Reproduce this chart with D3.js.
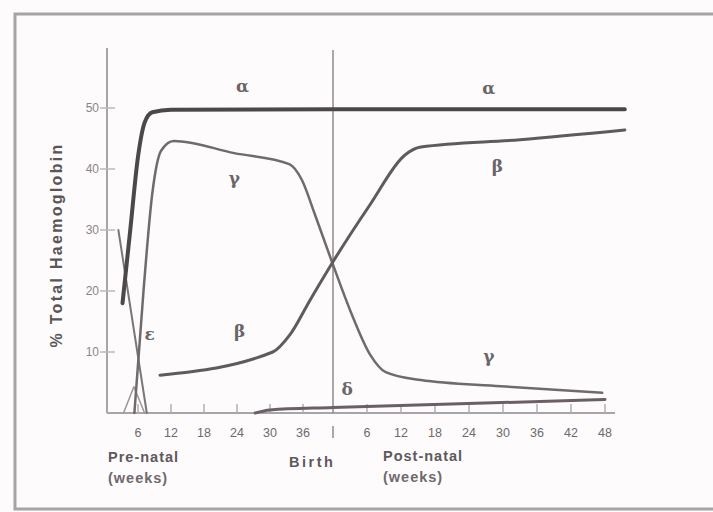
<!DOCTYPE html>
<html>
<head>
<meta charset="utf-8">
<script src="https://cdn.jsdelivr.net/npm/d3@7"></script>
<style>
  html, body { margin: 0; padding: 0; background: #fdfbfc; }
  svg { display: block; }
  text { font-family: "Liberation Sans", "DejaVu Sans", sans-serif; fill: #4a4548; }
</style>
</head>
<body>
<svg id="chart" width="713" height="512"></svg>
<script>
// Time runs in weeks since conception; birth falls at week 42.
const birthWeek = 42;
const prenatalTicks = [6, 12, 18, 24, 30, 36];
const postnatalTicks = [6, 12, 18, 24, 30, 36, 42, 48];
const yTicks = [10, 20, 30, 40, 50];

// Globin chains as % of total haemoglobin: [week, percent]
const alpha = [[3, 18], [4.5, 30], [6, 42], [7.2, 47.6], [8.6, 49.3], [12, 49.7], [42, 49.8], [93.5, 49.8]];
const gamma = [[5.3, 0], [7, 20], [8.6, 36], [10.2, 43], [12.5, 44.6], [23.5, 42.6], [33.5, 40.8], [35.8, 38.2], [38.4, 32.5], [42, 24.3], [45, 16.9], [48.6, 9.5], [51.3, 6.7], [57.5, 5.4], [71.6, 4.4], [89.5, 3.3]];
const beta = [[10, 6.2], [30.5, 10], [33.6, 12.8], [37.4, 18.5], [42, 24.8], [48.5, 34.1], [54.7, 42.3], [57.5, 43.6], [75, 44.8], [93.5, 46.4]];
const delta = [[27.3, 0], [30, 0.5], [42, 0.9], [90, 2.2]];
const epsilon = [[2.2, 30], [7.6, 0]];
const zeta = [[3.2, 0], [5.2, 4.3], [7.2, 0]];

const labels = [
  { text: "α", week: 25, value: 52.7 },
  { text: "α", week: 69.5, value: 52.3 },
  { text: "γ", week: 23.5, value: 37.5 },
  { text: "γ", week: 69.5, value: 8.3 },
  { text: "β", week: 24.5, value: 12.5 },
  { text: "β", week: 71, value: 39.5 },
  { text: "δ", week: 44.5, value: 3.0 },
  { text: "ε", week: 8.1, value: 12.0 }
];

const svg = d3.select("#chart");

// Frame round the figure
svg.append("rect")
  .attr("x", 15).attr("y", 14)
  .attr("width", 720).attr("height", 495)
  .attr("fill", "none")
  .attr("stroke", "#a8a3a6")
  .attr("stroke-width", 3);

const x = d3.scaleLinear()
  .domain([0, 6, 36, birthWeek, birthWeek + 48])
  .range([107, 138, 303, 333, 605]);

const y = d3.scaleLinear()
  .domain([0, 50])
  .range([413, 108]);

// Y axis line (runs a little above the top tick)
svg.append("line")
  .attr("x1", 107).attr("x2", 107)
  .attr("y1", 48).attr("y2", 413)
  .attr("stroke", "#a9a4a7").attr("stroke-width", 2);

// Y ticks crossing the axis
const yAxisG = svg.append("g");
yAxisG.selectAll("line.tick")
  .data(yTicks)
  .join("line")
  .attr("x1", 100).attr("x2", 115)
  .attr("y1", d => y(d)).attr("y2", d => y(d))
  .attr("stroke", "#bdb8bb").attr("stroke-width", 1.5);
yAxisG.selectAll("text")
  .data(yTicks)
  .join("text")
  .attr("x", 99).attr("y", d => y(d) + 4)
  .attr("text-anchor", "end")
  .attr("font-size", 12)
  .style("fill", "#8a8588")
  .text(d => d);

svg.append("text")
  .attr("transform", "translate(62,245) rotate(-90)")
  .attr("text-anchor", "middle")
  .attr("font-size", 16)
  .attr("font-weight", "bold")
  .style("fill", "#5a5558")
  .style("letter-spacing", "2.3px")
  .text("% Total Haemoglobin");

// X axis: baseline with upward ticks
svg.append("line")
  .attr("x1", 107).attr("x2", 615)
  .attr("y1", 413).attr("y2", 413)
  .attr("stroke", "#a9a4a7").attr("stroke-width", 2);

const xTickData = prenatalTicks.map(w => ({ week: w, label: w }))
  .concat(postnatalTicks.map(w => ({ week: birthWeek + w, label: w })));

const xAxisG = svg.append("g");
xAxisG.selectAll("line")
  .data(xTickData)
  .join("line")
  .attr("x1", d => x(d.week)).attr("x2", d => x(d.week))
  .attr("y1", 404).attr("y2", 413)
  .attr("stroke", "#b3aeb1").attr("stroke-width", 1.5);
xAxisG.selectAll("text")
  .data(xTickData)
  .join("text")
  .attr("x", d => x(d.week))
  .attr("y", 437)
  .attr("text-anchor", "middle")
  .attr("font-size", 12.5)
  .style("fill", "#6e696c")
  .text(d => d.label);

// Birth marker
svg.append("line")
  .attr("x1", x(birthWeek)).attr("x2", x(birthWeek))
  .attr("y1", 50).attr("y2", 413)
  .attr("stroke", "#8f8a8d").attr("stroke-width", 1.5);
svg.append("line")
  .attr("x1", x(birthWeek)).attr("x2", x(birthWeek))
  .attr("y1", 426).attr("y2", 438)
  .attr("stroke", "#8f8a8d").attr("stroke-width", 1.5);

// Period captions
const captions = svg.append("g")
  .attr("font-size", 14.5)
  .attr("font-weight", "bold")
  .style("letter-spacing", "1px");
captions.append("text").attr("x", 108).attr("y", 462).style("fill", "#5e595c").text("Pre-natal");
captions.append("text").attr("x", 108).attr("y", 483).style("fill", "#6e696c").text("(weeks)");
captions.append("text").attr("x", 289).attr("y", 467).style("fill", "#5e595c").style("letter-spacing", "2.5px").text("Birth");
captions.append("text").attr("x", 383).attr("y", 461).style("fill", "#5e595c").text("Post-natal");
captions.append("text").attr("x", 383).attr("y", 482).style("fill", "#6e696c").text("(weeks)");

// Chain curves
const smooth = d3.line()
  .x(d => x(d[0])).y(d => y(d[1]))
  .curve(d3.curveMonotoneX);
const straight = d3.line()
  .x(d => x(d[0])).y(d => y(d[1]));

const curves = [
  { data: delta, gen: smooth, width: 3, color: "#6a5f66" },
  { data: zeta, gen: straight, width: 1.5, color: "#9a9598" },
  { data: epsilon, gen: straight, width: 2, color: "#7a7578" },
  { data: gamma, gen: smooth, width: 2.5, color: "#6f6a6d" },
  { data: beta, gen: smooth, width: 3, color: "#5f5a5d" },
  { data: alpha, gen: smooth, width: 4, color: "#4c474a" }
];

svg.append("g")
  .selectAll("path")
  .data(curves)
  .join("path")
  .attr("d", c => c.gen(c.data))
  .attr("fill", "none")
  .attr("stroke", c => c.color)
  .attr("stroke-width", c => c.width)
  .attr("stroke-linejoin", "round")
  .attr("stroke-linecap", "round");

// Chain labels
svg.append("g")
  .selectAll("text")
  .data(labels)
  .join("text")
  .attr("x", d => x(d.week))
  .attr("y", d => y(d.value))
  .attr("text-anchor", "middle")
  .attr("font-size", 17)
  .attr("font-weight", "bold")
  .style("font-family", "'DejaVu Serif', serif")
  .style("fill", "#6a6568")
  .text(d => d.text);
</script>
</body>
</html>
